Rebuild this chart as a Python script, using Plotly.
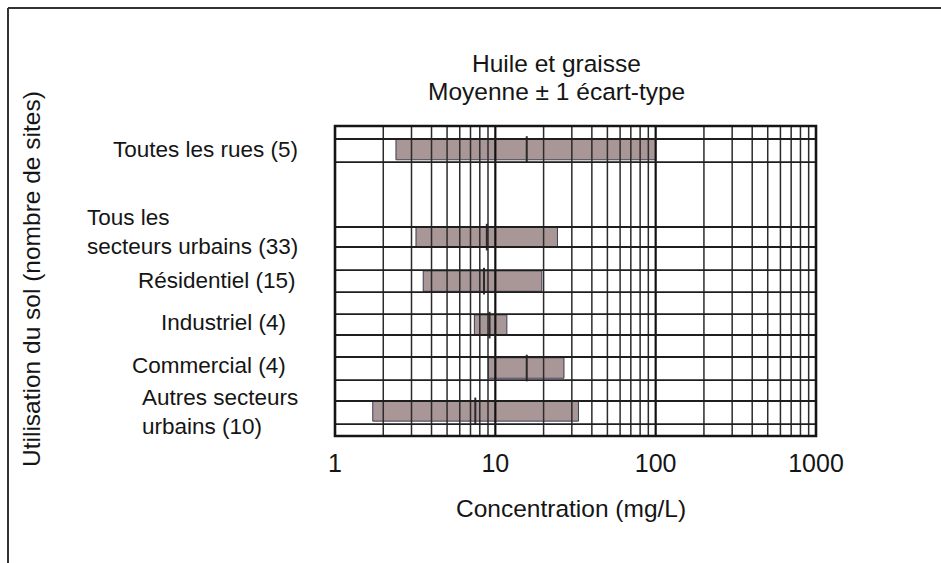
import plotly.graph_objects as go

# Oil and grease concentrations by land use: mean and +/- 1 standard deviation
categories = [
    "Toutes les rues (5)",
    "Tous les<br>secteurs urbains (33)",
    "Résidentiel (15)",
    "Industriel (4)",
    "Commercial (4)",
    "Autres secteurs<br>urbains (10)",
]
low_values = [2.4, 3.2, 3.55, 7.4, 9.05, 1.72]
mean_values = [15.7, 8.85, 8.5, 9.2, 15.7, 7.5]
high_values = [100.0, 24.4, 19.5, 11.8, 26.8, 33.0]
tick_labels = ["1", "10", "100", "1000"]
tick_values = [1, 10, 100, 1000]
title_lines = ["Huile et graisse", "Moyenne ± 1 écart-type"]

# Row layout (y axis units, top = 0)
row_pos = [1.07, 5.05, 7.05, 9.05, 11.0, 12.95]
row_sep = [0.59, 1.64, 4.59, 5.5, 6.55, 7.55, 8.55, 9.5, 10.5, 11.55, 12.5, 13.55]
y_span = 14.09
label_right = [300, 300, 298, 288, 288, 300]
label_shift = [0, 5, 1, 3, 3, -1]

W, H = 941, 563
L, R, T, B = 335, 125, 126, 127
PW, PH = W - L - R, H - T - B
FONT = "Liberation Sans, Arial, Helvetica, sans-serif"
INK = "#151515"


def px_x(x):
    return (x - L) / PW


def px_y(y):
    return (T + PH - y) / PH


fig = go.Figure()

fig.add_trace(go.Bar(
    orientation="h",
    y=row_pos,
    base=low_values,
    x=[h - l for h, l in zip(high_values, low_values)],
    width=0.93,
    marker=dict(color="#a99696", line=dict(color="#3c3c55", width=1)),
    hoverinfo="skip",
))

fig.add_trace(go.Scatter(
    x=mean_values,
    y=row_pos,
    mode="markers",
    marker=dict(symbol="line-ns", size=19, line=dict(color="#2a2a2a", width=2)),
    hoverinfo="skip",
))

shapes = []
# vertical log grid: 1..9 in each decade
for d in range(3):
    for m in range(1, 10):
        v = m * 10 ** d
        major = m == 1 and d > 0
        shapes.append(dict(type="line", xref="x", yref="paper", x0=v, x1=v, y0=0, y1=1,
                           line=dict(color="#111" if major else "#2b2b2b",
                                     width=2.2 if major else 1.5),
                           layer="above"))
# horizontal row separators
for s in row_sep:
    shapes.append(dict(type="line", xref="paper", yref="y", x0=0, x1=1, y0=s, y1=s,
                       line=dict(color="#1e1e1e", width=1.8), layer="above"))
# plot border
shapes.append(dict(type="rect", xref="paper", yref="paper", x0=0, x1=1, y0=0, y1=1,
                   line=dict(color=INK, width=2.6), layer="above"))
# outer frame (top and left edges)
shapes.append(dict(type="line", xref="paper", yref="paper",
                   x0=px_x(8), x1=px_x(W + 5), y0=px_y(8), y1=px_y(8),
                   line=dict(color="#333", width=2)))
shapes.append(dict(type="line", xref="paper", yref="paper",
                   x0=px_x(8), x1=px_x(8), y0=px_y(8), y1=px_y(H + 5),
                   line=dict(color="#333", width=2)))

annotations = []
for cat, yp, xr, sh in zip(categories, row_pos, label_right, label_shift):
    annotations.append(dict(text=cat, xref="paper", yref="y", x=px_x(xr), y=yp,
                            xanchor="right", yanchor="middle", align="left",
                            yshift=sh, showarrow=False,
                            font=dict(family=FONT, size=22.5, color=INK)))

for line, ty in zip(title_lines, [63, 91]):
    annotations.append(dict(text=line, xref="paper", yref="paper",
                            x=px_x(556), y=px_y(ty),
                            xanchor="center", yanchor="middle", showarrow=False,
                            font=dict(family=FONT, size=24.5, color=INK)))
annotations.append(dict(text="Concentration (mg/L)",
                        xref="paper", yref="paper", x=px_x(571), y=px_y(508),
                        xanchor="center", yanchor="middle", showarrow=False,
                        font=dict(family=FONT, size=24.5, color=INK)))
annotations.append(dict(text="Utilisation du sol (nombre de sites)",
                        xref="paper", yref="paper", x=px_x(31), y=px_y(279),
                        xanchor="center", yanchor="middle", textangle=-90,
                        showarrow=False,
                        font=dict(family=FONT, size=24.5, color=INK)))

fig.update_layout(
    width=W, height=H,
    margin=dict(l=L, r=R, t=T, b=B, pad=0),
    paper_bgcolor="white", plot_bgcolor="white",
    showlegend=False,
    shapes=shapes,
    annotations=annotations,
    xaxis=dict(type="log", range=[0, 3], tickvals=tick_values, ticktext=tick_labels,
               showgrid=False, zeroline=False, showline=False, ticks="",
               ticklabelstandoff=10,
               tickfont=dict(family=FONT, size=25, color=INK)),
    yaxis=dict(range=[y_span, 0], showgrid=False, zeroline=False, showline=False,
               showticklabels=False, ticks=""),
)

fig.write_html("out.html")
